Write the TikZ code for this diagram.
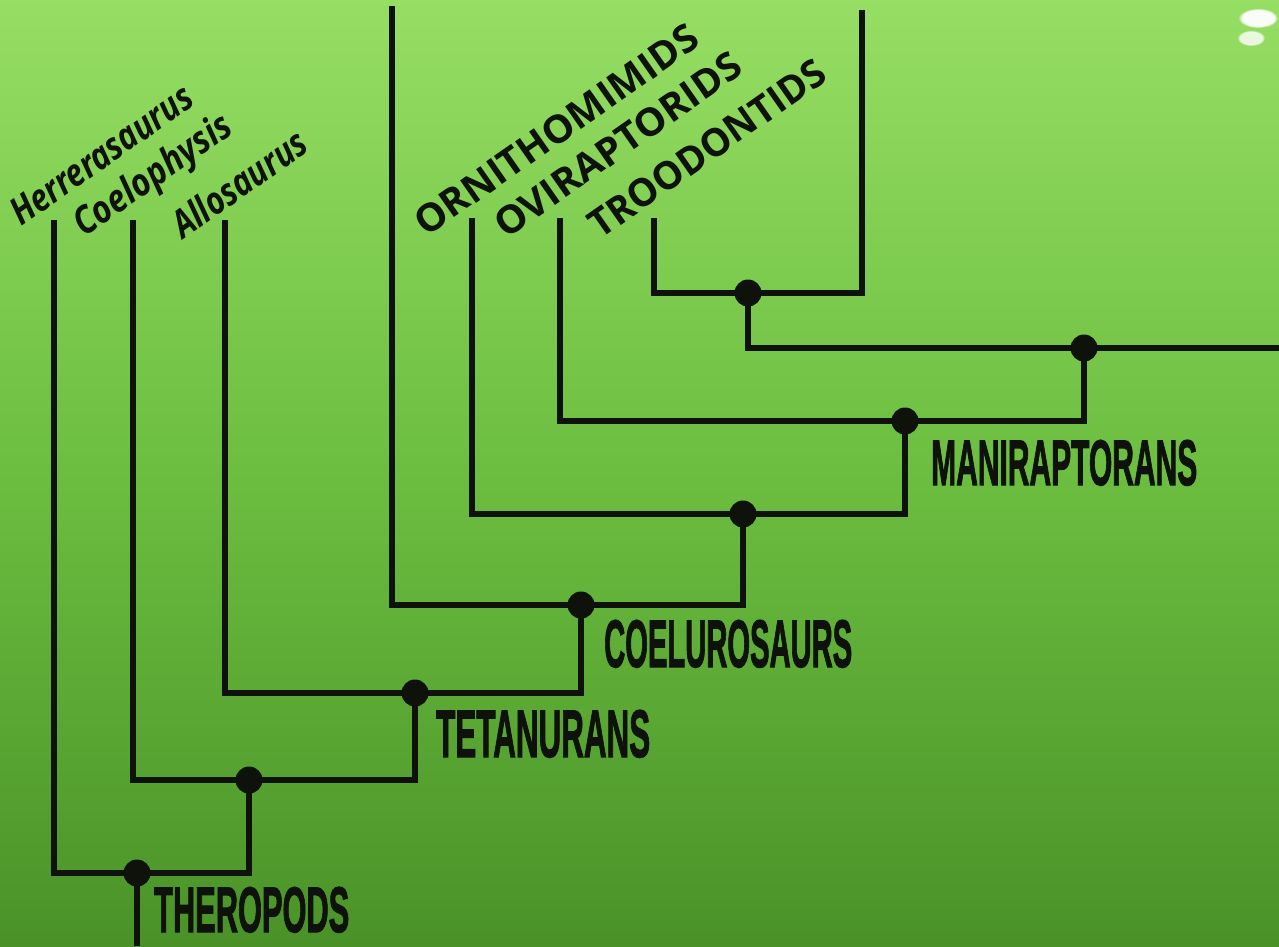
\documentclass[tikz,border=0pt]{standalone}
\usepackage{fontspec}
\setmainfont{Open Sans}
\usepackage{graphicx}
\usetikzlibrary{calc,fadings}

\definecolor{boardtop}{RGB}{150,222,100}
\definecolor{boardmid}{RGB}{108,190,64}
\definecolor{boardbot}{RGB}{74,146,40}
\definecolor{ink}{RGB}{14,18,10}

\newfontfamily\cladefont{Liberation Sans}[FakeBold=2]

\tikzset{
  branch/.style={draw=ink, line width=5.5pt, line join=miter},
  junction/.style={circle, fill=ink, minimum size=27pt, inner sep=0pt},
  taxon/.style={rotate=35, anchor=base west, inner sep=0pt, text=ink},
  clade/.style={anchor=base west, inner sep=0pt, text=ink},
  glare/.style={white, path fading=circle with fuzzy edge 20 percent},
}

% width, height, text
\newcommand{\taxonit}[3]{\resizebox{#1pt}{#2pt}{\bfseries\itshape #3}}
\newcommand{\taxonup}[3]{\resizebox{#1pt}{#2pt}{\bfseries #3}}
\newcommand{\cladename}[3]{\resizebox{#1pt}{#2pt}{\cladefont\bfseries #3}}

\begin{document}
\begin{tikzpicture}[x=1pt, y=-1pt]
  % board
  \useasboundingbox (0,0) rectangle (1279,946);
  \shade[top color=boardtop, bottom color=boardmid, middle color={boardtop!50!boardmid}]
    (0,0) rectangle (1279,470);
  \shade[top color=boardmid, bottom color=boardbot] (0,470) rectangle (1279,946);
  % glare spots
  \fill[glare, opacity=0.95] (1258,18) ellipse (20pt and 10pt);
  \fill[glare, opacity=0.8] (1251,38) ellipse (14pt and 8pt);

  % leaf tips
  \coordinate (herr) at (54,220);
  \coordinate (coel) at (133,220);
  \coordinate (allo) at (225,220);
  \coordinate (birdline) at (392,6);
  \coordinate (orni) at (472,218);
  \coordinate (ovi) at (560,218);
  \coordinate (troo) at (654,218);
  \coordinate (sister) at (862,10);
  \coordinate (root) at (137,946);
  \coordinate (stem) at (1279,348);

  % junctions
  \node[junction] (theropods) at (137,873) {};
  \node[junction] (n2) at (249,780) {};
  \node[junction] (tetanurans) at (415,693) {};
  \node[junction] (coelurosaurs) at (581,605) {};
  \node[junction] (n5) at (743,514) {};
  \node[junction] (maniraptorans) at (905,421) {};
  \node[junction] (n7) at (1084,348) {};
  \node[junction] (n8) at (748,293) {};

  % branches
  \draw[branch] (herr) |- (theropods.center) -| (n2.center);
  \draw[branch] (theropods.center) -- (root);
  \draw[branch] (coel) |- (n2.center) -| (tetanurans.center);
  \draw[branch] (allo) |- (tetanurans.center) -| (coelurosaurs.center);
  \draw[branch] (birdline) |- (coelurosaurs.center) -| (n5.center);
  \draw[branch] (orni) |- (n5.center) -| (maniraptorans.center);
  \draw[branch] (ovi) |- (maniraptorans.center) -| (n7.center);
  \draw[branch] (troo) |- (n8.center) -| (sister);
  \draw[branch] (n8.center) |- (n7.center) -- (stem);

  % taxon names
  \node[taxon] (lherr) at (21,227) {\taxonit{214}{27}{Herrerasaurus}};
  \node[taxon] (lcoel) at (84,238) {\taxonit{184}{29}{Coelophysis}};
  \node[taxon] (lallo) at (183,240) {\taxonit{156}{29}{Allosaurus}};
  \node[taxon] (lorni) at (426,238) {\taxonup{337}{28}{ORNITHOMIMIDS}};
  \node[taxon] (lovi) at (506,240) {\taxonup{292}{28}{OVIRAPTORIDS}};
  \node[taxon] (ltroo) at (600,240) {\taxonup{280}{28}{TROODONTIDS}};

  % clade names
  \node[clade] (ltheropods) at (154,932) {\cladename{195}{45}{THEROPODS}};
  \node[clade] (ltetanurans) at (436,757) {\cladename{214}{47}{TETANURANS}};
  \node[clade] (lcoelurosaurs) at (604,667) {\cladename{248}{47}{COELUROSAURS}};
  \node[clade] (lmaniraptorans) at (931,485) {\cladename{266}{45}{MANIRAPTORANS}};
\end{tikzpicture}
\end{document}
